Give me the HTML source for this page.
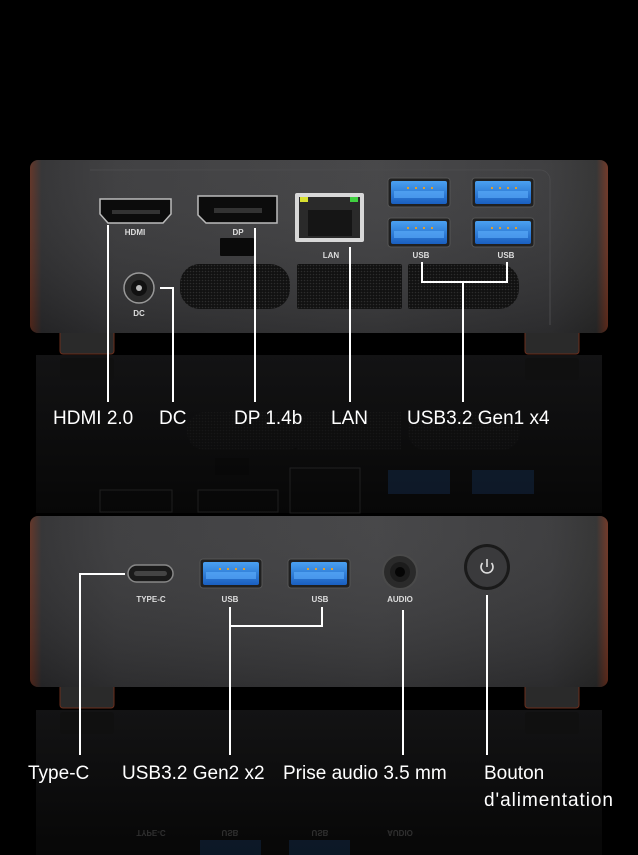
<!DOCTYPE html>
<html><head><meta charset="utf-8"><style>
html,body{margin:0;padding:0;background:#000;}
svg{display:block}
text{font-family:"Liberation Sans",sans-serif;}
</style></head><body>
<svg width="638" height="855" viewBox="0 0 638 855" xmlns="http://www.w3.org/2000/svg">
<defs>
<linearGradient id="body" x1="0" y1="0" x2="1" y2="0">
<stop offset="0" stop-color="#5a2a1c"/><stop offset="0.02" stop-color="#2a2a2c"/>
<stop offset="0.15" stop-color="#353537"/><stop offset="0.6" stop-color="#3c3c3e"/>
<stop offset="0.9" stop-color="#333335"/><stop offset="0.98" stop-color="#2a2a2a"/><stop offset="1" stop-color="#6a2e1c"/>
</linearGradient>
<linearGradient id="vert" x1="0" y1="0" x2="0" y2="1">
<stop offset="0" stop-color="#fff" stop-opacity="0.06"/><stop offset="1" stop-color="#000" stop-opacity="0.15"/>
</linearGradient>
<linearGradient id="refl" x1="0" y1="0" x2="0" y2="1">
<stop offset="0" stop-color="#131314"/><stop offset="1" stop-color="#070707"/>
</linearGradient>
<linearGradient id="usb" x1="0" y1="0" x2="0" y2="1">
<stop offset="0" stop-color="#4aa0f0"/><stop offset="1" stop-color="#1a5fc0"/>
</linearGradient>
<pattern id="mesh" width="3" height="3" patternUnits="userSpaceOnUse">
<rect width="3" height="3" fill="#111"/><circle cx="1.5" cy="1.5" r="0.8" fill="#2c2c2c"/>
</pattern>
<g id="usbp">
<rect x="0" y="0" width="62" height="29" rx="3" fill="#202020" stroke="#555" stroke-width="1"/>
<rect x="3" y="3" width="56" height="23" rx="2" fill="url(#usb)"/>
<rect x="6" y="13" width="50" height="7" fill="#5fb0ff" opacity="0.6"/>
<g fill="#e0a030"><rect x="19" y="9" width="2" height="2"/><rect x="27" y="9" width="2" height="2"/><rect x="35" y="9" width="2" height="2"/><rect x="43" y="9" width="2" height="2"/></g>
</g>
</defs>
<rect width="638" height="855" fill="#000"/>

<rect x="36" y="355" width="566" height="158" fill="url(#refl)"/>
<rect x="60" y="358" width="54" height="22" rx="3" fill="#101010"/>
<rect x="525" y="358" width="54" height="22" rx="3" fill="#101010"/>
<g opacity="0.3">
<rect x="187" y="412" width="118" height="38" rx="18" fill="url(#mesh)"/>
<rect x="297" y="412" width="104" height="38" fill="url(#mesh)"/>
<rect x="408" y="412" width="112" height="38" rx="18" fill="url(#mesh)"/>
<rect x="215" y="458" width="34" height="17" fill="#050505"/>
<rect x="290" y="468" width="70" height="45" fill="none" stroke="#555"/>
<rect x="388" y="470" width="62" height="24" fill="#1a3f70"/>
<rect x="472" y="470" width="62" height="24" fill="#1a3f70"/>
<rect x="100" y="490" width="72" height="22" fill="none" stroke="#555"/>
<rect x="198" y="490" width="80" height="22" fill="none" stroke="#555"/>
</g>

<rect x="60" y="328" width="54" height="26" rx="3" fill="#2a2a2a" stroke="#6a2e1c"/>
<rect x="525" y="328" width="54" height="26" rx="3" fill="#2a2a2a" stroke="#6a2e1c"/>
<rect x="30" y="160" width="578" height="173" rx="8" fill="url(#body)"/>
<rect x="30" y="160" width="578" height="173" rx="8" fill="url(#vert)"/>
<path d="M90 170 H540 a10 10 0 0 1 10 10 V325" fill="none" stroke="#4a4a4c" stroke-width="1"/>
<path d="M100 199 H171 V214 L163 223 H108 L100 214 Z" fill="#0c0c0c" stroke="#bbb" stroke-width="1.5"/>
<rect x="112" y="210" width="48" height="4" fill="#333"/>
<text x="135" y="235" fill="#ddd" font-size="8" font-weight="bold" text-anchor="middle">HDMI</text>
<path d="M198 196 H277 V223 H206 L198 215 Z" fill="#0c0c0c" stroke="#bbb" stroke-width="1.5"/>
<rect x="214" y="208" width="48" height="5" fill="#333"/>
<text x="238" y="235" fill="#ddd" font-size="8" font-weight="bold" text-anchor="middle">DP</text>
<rect x="220" y="238" width="34" height="18" rx="1" fill="#0a0a0a"/>
<rect x="295" y="193" width="69" height="49" rx="2" fill="#d8d8d8"/>
<rect x="299" y="197" width="61" height="41" fill="#2a2a2a"/>
<rect x="300" y="197" width="8" height="5" fill="#d8e030"/>
<rect x="350" y="197" width="8" height="5" fill="#40d040"/>
<rect x="308" y="210" width="44" height="26" fill="#151515"/>
<text x="331" y="258" fill="#ddd" font-size="8" font-weight="bold" text-anchor="middle">LAN</text>
<use href="#usbp" x="388" y="178"/><use href="#usbp" x="472" y="178"/>
<use href="#usbp" x="388" y="218"/><use href="#usbp" x="472" y="218"/>
<text x="421" y="258" fill="#ddd" font-size="8" font-weight="bold" text-anchor="middle">USB</text>
<text x="506" y="258" fill="#ddd" font-size="8" font-weight="bold" text-anchor="middle">USB</text>
<rect x="180" y="264" width="110" height="45" rx="20" fill="url(#mesh)"/>
<rect x="180" y="264" width="60" height="45" rx="20" fill="url(#mesh)"/>
<rect x="297" y="264" width="105" height="45" rx="2" fill="url(#mesh)"/>
<rect x="408" y="264" width="111" height="45" rx="20" fill="url(#mesh)"/>
<rect x="408" y="264" width="60" height="45" rx="2" fill="url(#mesh)"/>
<circle cx="139" cy="288" r="15" fill="#2a2a2a" stroke="#999" stroke-width="1.5"/>
<circle cx="139" cy="288" r="8" fill="#111"/>
<circle cx="139" cy="288" r="3" fill="#bbb"/>
<text x="139" y="316" fill="#ddd" font-size="8" font-weight="bold" text-anchor="middle">DC</text>

<g stroke="#fff" stroke-width="2" fill="none">
<path d="M108 225 V402"/>
<path d="M160 288 H173 V402"/>
<path d="M255 228 V402"/>
<path d="M350 247 V402"/>
<path d="M422 262 V282 H507 V262 M463 282 V402"/>
</g>
<g fill="#fff" font-size="19">
<text x="53" y="424">HDMI 2.0</text>
<text x="159" y="424">DC</text>
<text x="234" y="424">DP 1.4b</text>
<text x="331" y="424">LAN</text>
<text x="407" y="424">USB3.2 Gen1 x4</text>
</g>

<rect x="36" y="710" width="566" height="145" fill="url(#refl)"/>
<rect x="60" y="712" width="54" height="22" rx="3" fill="#101010"/>
<rect x="525" y="712" width="54" height="22" rx="3" fill="#101010"/>
<g opacity="0.3" fill="#888" font-size="8" font-weight="bold" text-anchor="middle">
<text x="151" y="830" transform="scale(1,-1) translate(0,-1660)">TYPE-C</text>
<text x="230" y="830" transform="scale(1,-1) translate(0,-1660)">USB</text>
<text x="320" y="830" transform="scale(1,-1) translate(0,-1660)">USB</text>
<text x="400" y="830" transform="scale(1,-1) translate(0,-1660)">AUDIO</text>
</g>
<g opacity="0.3"><rect x="200" y="840" width="61" height="15" fill="#1a3f70"/><rect x="289" y="840" width="61" height="15" fill="#1a3f70"/></g>

<rect x="60" y="683" width="54" height="25" rx="3" fill="#2a2a2a" stroke="#6a2e1c"/>
<rect x="525" y="683" width="54" height="25" rx="3" fill="#2a2a2a" stroke="#6a2e1c"/>
<rect x="30" y="516" width="578" height="171" rx="8" fill="url(#body)"/>
<rect x="30" y="516" width="578" height="171" rx="8" fill="url(#vert)"/>
<rect x="128" y="565" width="45" height="17" rx="8.5" fill="#1a1a1a" stroke="#888" stroke-width="1.5"/>
<rect x="134" y="571" width="33" height="5" rx="2.5" fill="#444"/>
<text x="151" y="602" fill="#ddd" font-size="8" font-weight="bold" text-anchor="middle">TYPE-C</text>
<use href="#usbp" x="200" y="559"/><use href="#usbp" x="288" y="559"/>
<text x="230" y="602" fill="#ddd" font-size="8" font-weight="bold" text-anchor="middle">USB</text>
<text x="320" y="602" fill="#ddd" font-size="8" font-weight="bold" text-anchor="middle">USB</text>
<circle cx="400" cy="572" r="17" fill="#2a2a2a" stroke="#4a4a4a" stroke-width="2"/>
<circle cx="400" cy="572" r="10" fill="#1c1c1c"/>
<circle cx="400" cy="572" r="5" fill="#050505"/>
<text x="400" y="602" fill="#ddd" font-size="8" font-weight="bold" text-anchor="middle">AUDIO</text>
<circle cx="487" cy="567" r="23" fill="#1a1a1a"/>
<circle cx="487" cy="567" r="20" fill="#3a3a3c"/>
<path d="M482.5 563 a6 6 0 1 0 9 0" fill="none" stroke="#ddd" stroke-width="1.6"/>
<path d="M487 559 V567" stroke="#ddd" stroke-width="1.6"/>

<g stroke="#fff" stroke-width="2" fill="none">
<path d="M125 574 H80 V755"/>
<path d="M230 607 V626 H322 V607 M230 626 V755"/>
<path d="M403 610 V755"/>
<path d="M487 595 V755"/>
</g>
<g fill="#fff" font-size="19">
<text x="28" y="779">Type-C</text>
<text x="122" y="779">USB3.2 Gen2 x2</text>
<text x="283" y="779">Prise audio 3.5 mm</text>
<text x="484" y="779">Bouton</text>
<text x="484" y="806" textLength="129" lengthAdjust="spacing">d'alimentation</text>
</g>
</svg>
</body></html>
